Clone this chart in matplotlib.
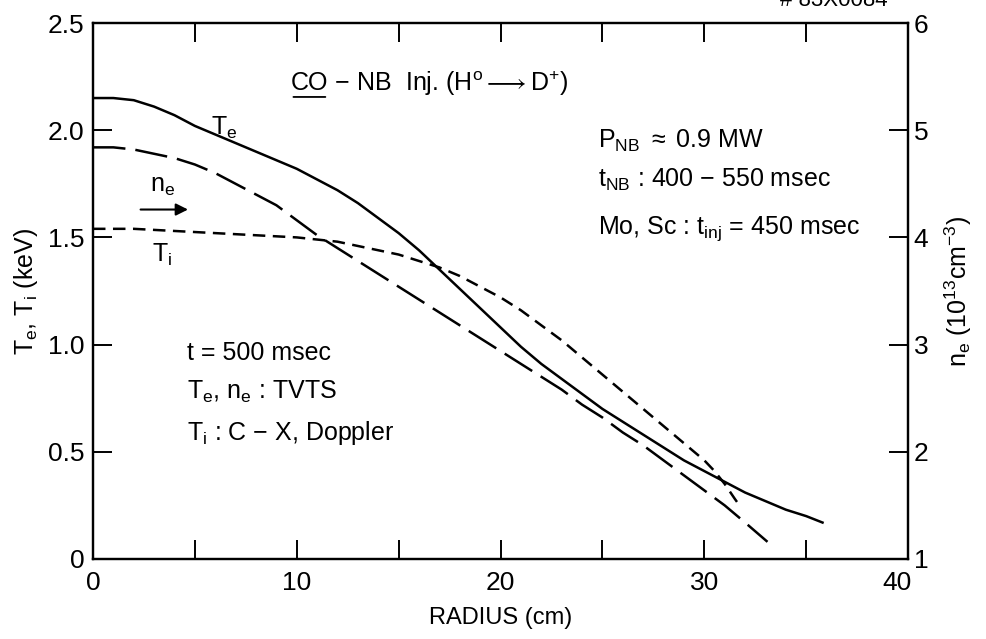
import numpy as np
import matplotlib
matplotlib.use('Agg')
import matplotlib.pyplot as plt
import matplotlib.transforms as mtransforms

plt.rcParams['font.family'] = ['Liberation Sans', 'DejaVu Sans']
plt.rcParams['mathtext.fontset'] = 'custom'
plt.rcParams['mathtext.rm'] = 'Liberation Sans'
plt.rcParams['mathtext.it'] = 'Liberation Sans'

# electron temperature (keV), solid
radius_te = [0, 1, 2, 3, 4, 5, 6, 7, 8, 9, 10, 11, 12, 13, 14, 15, 16, 17, 18,
             19, 20, 21, 22, 23, 24, 25, 26, 27, 28, 29, 30, 31, 32, 33, 34, 35, 35.8]
te = [2.15, 2.15, 2.14, 2.11, 2.07, 2.02, 1.98, 1.94, 1.90, 1.86, 1.82, 1.77, 1.72,
      1.66, 1.59, 1.52, 1.44, 1.35, 1.26, 1.17, 1.08, 0.99, 0.91, 0.84, 0.77, 0.70,
      0.64, 0.58, 0.52, 0.46, 0.41, 0.36, 0.31, 0.27, 0.23, 0.20, 0.17]

# electron density (1e13 cm^-3), long dash, right axis
radius_ne = [0, 1, 2, 3, 4, 5, 6, 7, 8, 9, 10, 11, 12, 13, 14, 15, 16, 17, 18,
             19, 20, 21, 22, 23, 24, 25, 26, 27, 28, 29, 30, 31, 32, 33.1]
ne = [4.84, 4.84, 4.82, 4.78, 4.74, 4.68, 4.60, 4.50, 4.40, 4.30, 4.16, 4.02, 3.90,
      3.78, 3.66, 3.54, 3.42, 3.30, 3.18, 3.06, 2.94, 2.82, 2.70, 2.58, 2.44, 2.32,
      2.18, 2.06, 1.92, 1.78, 1.64, 1.50, 1.34, 1.16]

# ion temperature (keV), short dash
radius_ti = [0, 2, 4, 6, 8, 10, 11, 12, 13, 14, 15, 16, 17, 18, 19, 20, 21, 22,
             23, 24, 25, 26, 27, 28, 29, 30, 30.5, 31, 31.5, 31.8]
ti = [1.54, 1.54, 1.53, 1.52, 1.51, 1.50, 1.49, 1.48, 1.46, 1.44, 1.42, 1.39, 1.36,
      1.32, 1.27, 1.22, 1.16, 1.09, 1.02, 0.94, 0.86, 0.78, 0.70, 0.62, 0.54, 0.46,
      0.41, 0.35, 0.28, 0.24]

x_ticks = [0, 10, 20, 30, 40]
y_ticks = [0, 0.5, 1.0, 1.5, 2.0, 2.5]
y_labels = ['0', '0.5', '1.0', '1.5', '2.0', '2.5']
ne_ticks = [1, 2, 3, 4, 5, 6]

fig = plt.figure(figsize=(9.86, 6.39), dpi=100)
ax = fig.add_axes([0.0943, 0.1252, 0.8267, 0.8388])
ax2 = ax.twinx()

lw = 1.8
ax.plot(radius_te, te, color='black', lw=lw)
ax.plot(radius_ti, ti, color='black', lw=lw, dashes=(5, 3))
ax2.plot(radius_ne, ne, color='black', lw=lw, dashes=(13, 4))

ax.set_xlim(0, 40)
ax.set_ylim(0, 2.5)
ax2.set_ylim(1, 6)

ax.set_xticks(x_ticks)
ax.set_xticks([5, 15, 25, 35], minor=True)
ax.set_yticks(y_ticks)
ax.set_yticklabels(y_labels)
ax2.set_yticks(ne_ticks)

ax.tick_params(which='both', direction='in', length=14, width=1.4, top=True,
               right=False, labelsize=19, pad=6)
ax.tick_params(axis='x', pad=9)
ax2.tick_params(direction='in', length=14, width=1.4, labelsize=19, pad=4)
for a in (ax, ax2):
    for s in a.spines.values():
        s.set_linewidth(1.6)

# nudge the "40" left so it sits under the corner like the original
lab40 = ax.get_xticklabels()[-1]
lab40.set_transform(lab40.get_transform() +
                    mtransforms.ScaledTranslation(-8 / 72, 0, fig.dpi_scale_trans))

ax.set_xlabel('RADIUS (cm)', fontsize=17, labelpad=8)
ax.set_ylabel(r'T$_\mathregular{e}$, T$_\mathregular{i}$ (keV)', fontsize=18, labelpad=6)
ax2.set_ylabel(r'n$_\mathregular{e}$ (10$^\mathregular{13}$cm$^\mathregular{-3}$)', fontsize=18, labelpad=10)

# curve labels
ax.text(5.8, 2.01, r'T$_\mathregular{e}$', fontsize=18, va='center')
ax.text(2.8, 1.74, r'n$_\mathregular{e}$', fontsize=18, va='center')
ax.annotate('', xy=(4.8, 1.63), xytext=(2.2, 1.63),
            arrowprops=dict(arrowstyle='-|>', color='black', lw=1.5, mutation_scale=18))
ax.text(2.9, 1.42, r'T$_\mathregular{i}$', fontsize=18, va='center')

# header with underlined CO
co = ax.text(9.7, 2.22, 'CO', fontsize=18, va='center')
ax.annotate('', xy=(0, -0.08), xycoords=co, xytext=(1, -0.08), textcoords=co,
            arrowprops=dict(arrowstyle='-', color='black', lw=1.3))
ax.annotate(r' $-$ NB  Inj. (H$^\mathregular{o}$$\longrightarrow$D$^\mathregular{+}$)',
            xy=(1, 0.5), xycoords=co, va='center', fontsize=18)

# run conditions
ax.text(24.8, 1.95, r'P$_\mathregular{NB}$ $\approx$ 0.9 MW', fontsize=18, va='center')
ax.text(24.8, 1.77, r't$_\mathregular{NB}$ : 400 $-$ 550 msec', fontsize=18, va='center')
ax.text(24.8, 1.54, r'Mo, Sc : t$_\mathregular{inj}$ = 450 msec', fontsize=18, va='center')

ax.text(4.6, 0.96, 't = 500 msec', fontsize=18, va='center')
ax.text(4.6, 0.78, r'T$_\mathregular{e}$, n$_\mathregular{e}$ : TVTS', fontsize=18, va='center')
ax.text(4.6, 0.59, r'T$_\mathregular{i}$ : C $-$ X, Doppler', fontsize=18, va='center')

fig.text(0.90, 1.0, '# 83X0084', fontsize=16, ha='right', va='center')

fig.savefig('out.png', dpi=100)
